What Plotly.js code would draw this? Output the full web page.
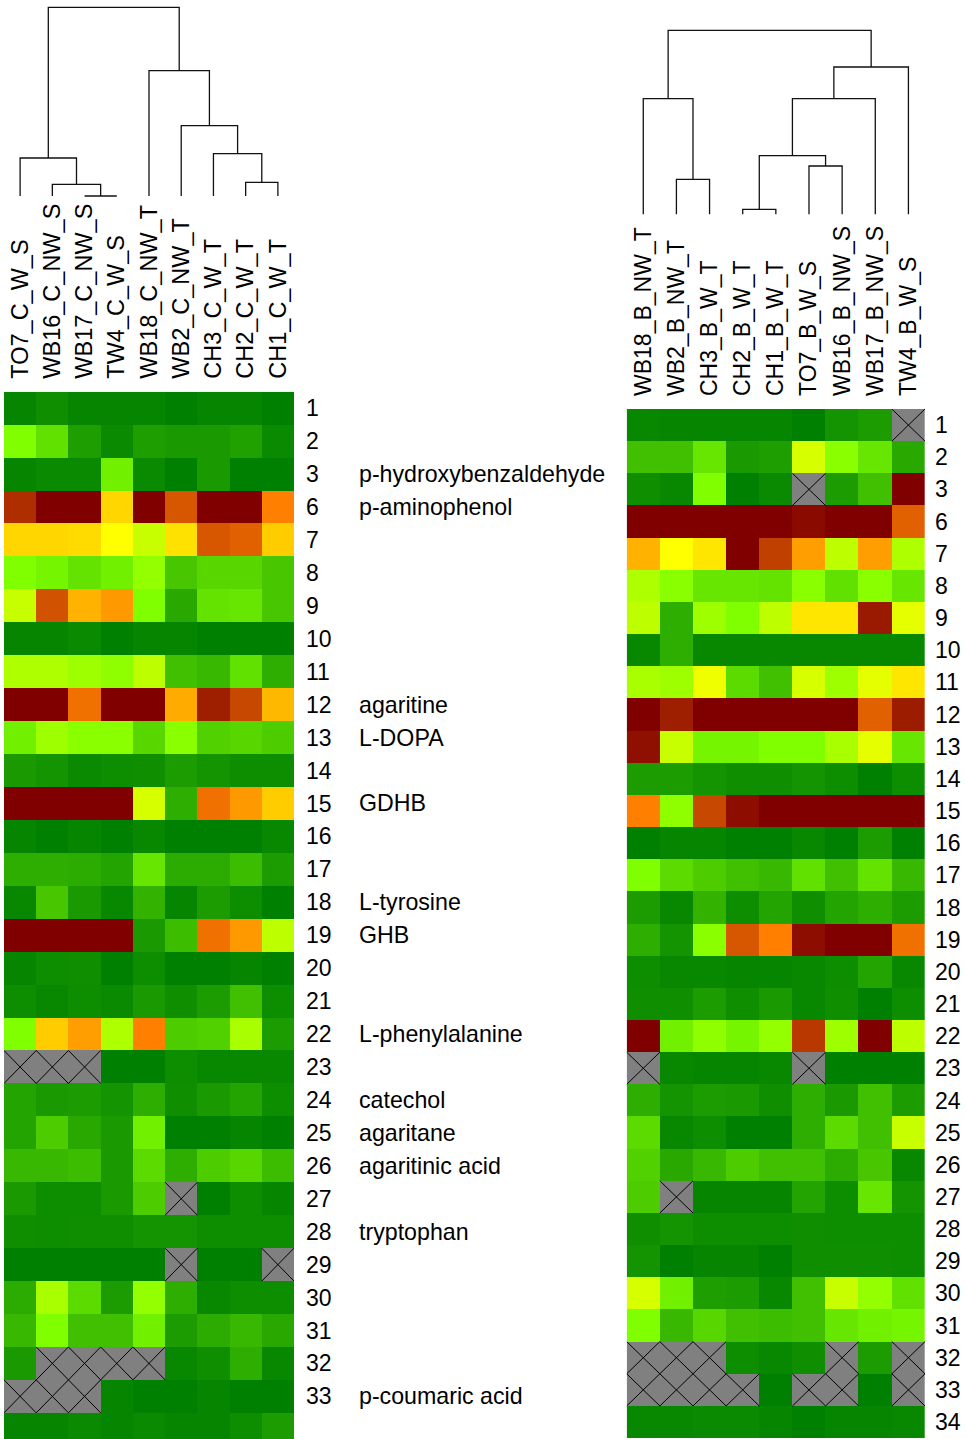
<!DOCTYPE html>
<html><head><meta charset="utf-8">
<script src="https://cdn.plot.ly/plotly-3.0.1.min.js"></script>
<style>html,body{margin:0;padding:0;background:#fff}#chart{width:967px;height:1439px}</style>
</head><body><div id="chart"></div>
<script>
// ---------------- data ----------------
const leftSamples = ['TO7_C_W_S','WB16_C_NW_S','WB17_C_NW_S','TW4_C_W_S','WB18_C_NW_T','WB2_C_NW_T','CH3_C_W_T','CH2_C_W_T','CH1_C_W_T'];
const rightSamples = ['WB18_B_NW_T','WB2_B_NW_T','CH3_B_W_T','CH2_B_W_T','CH1_B_W_T','TO7_B_W_S','WB16_B_NW_S','WB17_B_NW_S','TW4_B_W_S'];
const rowLabels = ['1','2','3','6','7','8','9','10','11','12','13','14','15','16','17','18','19','20','21','22','23','24','25','26','27','28','29','30','31','32','33','34'];
const compoundNames = ['','','p-hydroxybenzaldehyde','p-aminophenol','','','','','','agaritine','L-DOPA','','GDHB','','','L-tyrosine','GHB','','','L-phenylalanine','','catechol','agaritane','agaritinic acid','','tryptophan','','','','','p-coumaric acid',''];

// relative level: 0 = dark green ... 100 = dark red; null = missing
const leftValues = [
 [1,3,1,1,1,0,1,1,0],
 [25,19,6,2,6,5,5,6.5,2],
 [1,2,2,22,2,0,5,0,0],
 [91,100,100,58,100,83,100,100,75],
 [58,58,57,50,39,56,83,81,60],
 [25,23,19.5,22,29,14,17,17,14],
 [39,84,65,70,25,8,19.5,20,14],
 [1,1,2,0,1,1,0,0,0],
 [34,34,31,28,37,12.5,11,19,9],
 [100,100,78,100,100,66.5,94,86,64],
 [22,31,27,27,17,27,16,17,15],
 [5,4,2,2.5,3,5.5,4,2.5,2.5],
 [100,100,100,100,42,9,78,70,60],
 [1,0,1,0,1.5,0,0,0,1.5],
 [9,9,8.5,7,20,8.5,8.5,12,5.5],
 [1.5,14,5,1.5,10,1,5.5,2.5,0],
 [100,100,100,100,5,12,78,70,37],
 [1,2.5,3,0,2.5,0,0,1,0],
 [2.5,1.5,2.5,2,5,3,5.5,12.5,2.5],
 [25,60,69,34,75,15,16,33,5.5],
 [null,null,null,0,0,2.5,1.5,1.5,1.5],
 [7,5,5.5,4,9,3,5,7,2.5],
 [7,15,8,5,22,0,0,1,0],
 [11,11,12,5,18,9,15,17,12],
 [5,2.5,2.5,5,15,null,0,2.5,1],
 [3,2.5,3,3,4,4,2.5,2.5,2.5],
 [0,0,0,0,0,null,0,0,null],
 [8.5,33,18,5.5,29,9,1.5,2.5,2.5],
 [11,25,12.5,12.5,22,5.5,8.5,11,8],
 [5,null,null,null,null,1.5,3,9,1.5],
 [null,null,null,1,0,0,1,0,0],
 [1,1,2,1,2,1,1,2.5,5.5]
];
const rightValues = [
 [1.5,1,1,1,1,0,4,5.5,null],
 [12.5,12.5,20,5,6,42,27,20,8],
 [3,1.5,25,0,2,null,5.5,12.5,100],
 [100,100,100,100,100,98,100,100,81],
 [65,50,55,100,87.5,69,37,69,34],
 [34,27,20,20,19.5,27,19,27,20],
 [37,9,31,25,37,55,55,95,45],
 [1.5,9,1.5,1.5,1.5,1.5,1.5,1.5,1.5],
 [33,31,47,18,12.5,42,31,45,55],
 [100,94,100,100,100,100,100,81,94.5],
 [97,39,23,23,25,25,33,45,20],
 [5.5,5.5,4,3,3,4,2.5,0,2.5],
 [75,28,86,97.5,100,100,100,100,100],
 [0,1,1,0,0,1.5,0,5.5,0],
 [25,18,15,12.5,11,19,12.5,19.5,11],
 [5.5,1.5,10,2.5,7,3,7,9,5.5],
 [9,4,27,83,75,97.5,100,100,78],
 [2.5,1.5,1.5,1,1,1.5,2.5,7,1.5],
 [3,3,5.5,3,5,1.5,3,0,2.5],
 [100,22,28,23,29,89,31,100,37],
 [null,1.5,1,1,1.5,null,0,0,0],
 [9,4,5.5,5,3,9,5,12.5,5.5],
 [18,1.5,2.5,0,0,9,18,12.5,39],
 [16,8,11,15,12.5,12.5,8.5,14,1.5],
 [15,null,1,1,1,7,2.5,20,4],
 [3,4,2.5,2.5,2.5,3,2.5,2.5,2.5],
 [4,0,1,1,0,3,3,3,2.5],
 [42,22,6,5.5,1.5,12.5,39,29,19],
 [25,11,17,12.5,12,12.5,20,22,23],
 [null,null,null,2.5,1.5,3,null,5.5,null],
 [null,null,null,null,0,null,null,0,null],
 [1.5,1.5,2,2,1,0,1,1,1.5]
];

// dendrogram merges (hclust style): negative = leaf (1-based column), positive = earlier merge; third = height
const leftMerges = [
 [-3,-4,0],
 [-2,1,11.7],
 [-1,2,38],
 [-8,-9,13.7],
 [-7,4,42.3],
 [-6,5,70.3],
 [-5,6,125.3],
 [3,7,188.7]
];
const rightMerges = [
 [-2,-3,35],
 [-1,1,115.6],
 [-4,-5,5],
 [-6,-7,48.3],
 [3,4,58.6],
 [5,-8,115.6],
 [6,-9,147.3],
 [2,7,184]
];

// ---------------- drawing helpers ----------------
const W = 967, H = 1439;
const colorscale = [[0,'#008000'],[0.25,'#80FF00'],[0.5,'#FFFF00'],[0.75,'#FF8000'],[1,'#800000']];
const FONT = 'Liberation Sans, Arial, sans-serif';

function dendroLines(merges){
  const pos = [];
  const xs = [], ys = [];
  const get = (c) => c < 0 ? {x: -c - 1, h: 0} : pos[c - 1];
  merges.forEach(m => {
    const a = get(m[0]), b = get(m[1]), h = m[2];
    xs.push(a.x, a.x, b.x, b.x, null);
    ys.push(a.h, h, h, b.h, null);
    pos.push({x: (a.x + b.x) / 2, h: h});
  });
  return {xs, ys};
}
function missingMask(vals){
  return vals.map(r => r.map(v => v === null ? 1 : null));
}
function crossLines(vals){
  const xs = [], ys = [];
  vals.forEach((r, i) => r.forEach((v, j) => {
    if (v === null) {
      xs.push(j-0.5, j+0.5, null, j-0.5, j+0.5, null);
      ys.push(i-0.5, i+0.5, null, i+0.5, i-0.5, null);
    }
  }));
  return {xs, ys};
}
const colIdx = leftSamples.map((_, i) => i);
const rowIdx = rowLabels.map((_, i) => i);

const traces = [];
function addHeatmap(vals, xa, ya){
  traces.push({type:'heatmap', z: missingMask(vals), x: colIdx, y: rowIdx, xaxis: xa, yaxis: ya,
    colorscale: [[0,'#808080'],[1,'#808080']], showscale: false, hoverinfo:'skip'});
  traces.push({type:'heatmap', z: vals, x: colIdx, y: rowIdx, xaxis: xa, yaxis: ya,
    zmin: 0, zmax: 100, colorscale: colorscale, showscale: false});
  const c = crossLines(vals);
  traces.push({type:'scatter', mode:'lines', x: c.xs, y: c.ys, xaxis: xa, yaxis: ya,
    line: {color:'#000', width: 1}, hoverinfo:'skip', showlegend:false});
}
addHeatmap(leftValues, 'x', 'y');
addHeatmap(rightValues, 'x2', 'y2');
const dl = dendroLines(leftMerges), dr = dendroLines(rightMerges);
traces.push({type:'scatter', mode:'lines', x: dl.xs, y: dl.ys, xaxis:'x3', yaxis:'y3',
  line:{color:'#111', width:1.3}, hoverinfo:'skip', showlegend:false});
traces.push({type:'scatter', mode:'lines', x: dr.xs, y: dr.ys, xaxis:'x4', yaxis:'y4',
  line:{color:'#111', width:1.3}, hoverinfo:'skip', showlegend:false});

// geometry (pixels)
const L = {x0: 4, x1: 294, top: 391.7, rowH: 32.94};
const R = {x0: 626.7, x1: 925, top: 409, rowH: 32.16};
const nRows = rowLabels.length;
const leftBottomRange = -0.5 + (H - L.top) / L.rowH;
const rightBottomPx = R.top + nRows * R.rowH;

const tickFont = {family: FONT, size: 23, color: '#000'};
const colFont = {family: FONT, size: 23.5, color: '#000'};
const hidden = {showgrid:false, zeroline:false, showline:false, showticklabels:false, ticks:''};

const layout = {
  width: W, height: H, margin: {l:0, r:0, t:0, b:0},
  paper_bgcolor:'#fff', plot_bgcolor:'rgba(0,0,0,0)', showlegend:false,
  xaxis: {domain:[L.x0/W, L.x1/W], range:[-0.5, 8.5], anchor:'y', side:'top',
    tickmode:'array', tickvals: colIdx, ticktext: leftSamples, tickangle:-90,
    showgrid:false, zeroline:false, showline:false, ticks:'', tickfont: colFont, ticklabelstandoff: 12},
  yaxis: {domain:[0, 1 - L.top/H], range:[leftBottomRange, -0.5], anchor:'x', side:'right',
    tickmode:'array', tickvals: rowIdx, ticktext: rowLabels,
    showgrid:false, zeroline:false, showline:false, ticks:'', tickfont: tickFont, ticklabelstandoff: 11},
  xaxis2: {domain:[R.x0/W, R.x1/W], range:[-0.5, 8.5], anchor:'y2', side:'top',
    tickmode:'array', tickvals: colIdx, ticktext: rightSamples, tickangle:-90,
    showgrid:false, zeroline:false, showline:false, ticks:'', tickfont: tickFont, ticklabelstandoff: 12},
  yaxis2: {domain:[1 - rightBottomPx/H, 1 - R.top/H], range:[nRows - 0.5, -0.5], anchor:'x2', side:'right',
    tickmode:'array', tickvals: rowIdx, ticktext: rowLabels,
    showgrid:false, zeroline:false, showline:false, ticks:'', tickfont: tickFont, ticklabelstandoff: 9},
  xaxis3: Object.assign({domain:[L.x0/W, L.x1/W], range:[-0.5, 8.5], anchor:'y3'}, hidden),
  yaxis3: Object.assign({domain:[1 - 198/H, 1 - 5.3/H], range:[-2, 190.7], anchor:'x3'}, hidden),
  xaxis4: Object.assign({domain:[R.x0/W, R.x1/W], range:[-0.5, 8.5], anchor:'y4'}, hidden),
  yaxis4: Object.assign({domain:[1 - 216.3/H, 1 - 28.3/H], range:[-2, 186], anchor:'x4'}, hidden),
  annotations: compoundNames.map((n, i) => n ? {
    text: n, xref:'paper', yref:'y', x: 357/W, y: i, xanchor:'left', yanchor:'middle',
    showarrow:false, font: {family: FONT, size: 23.2, color: '#000'}
  } : null).filter(a => a)
};

Plotly.newPlot('chart', traces, layout, {staticPlot:true, displayModeBar:false});
</script>
</body></html>
